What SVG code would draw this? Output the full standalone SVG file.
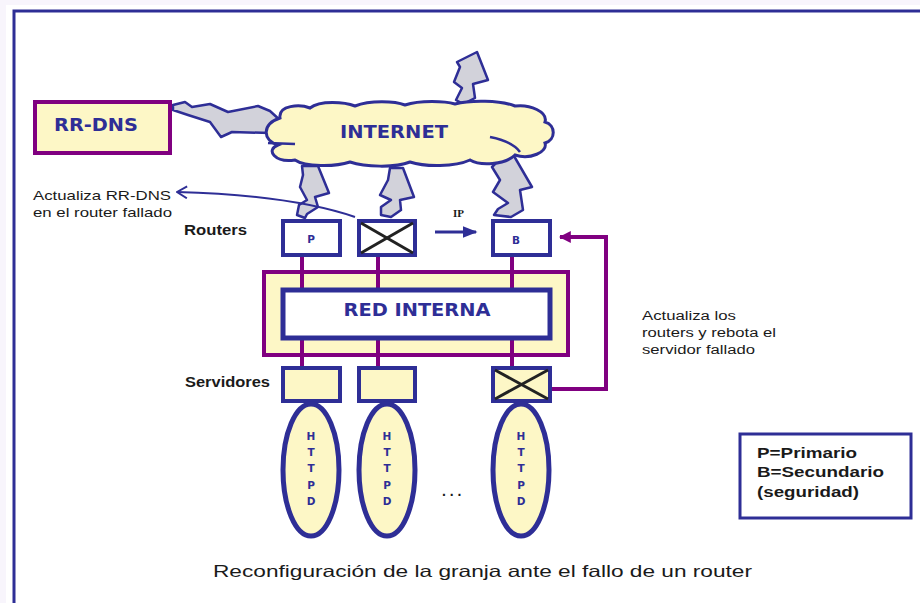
<svg xmlns="http://www.w3.org/2000/svg" width="920" height="603" viewBox="0 0 920 603">
<style>
.lbl{font-family:"Liberation Sans",Arial,sans-serif;fill:#1a1a1a}
.big{font-family:"DejaVu Sans",Verdana,sans-serif;font-weight:bold;fill:#2e2e96}
.bolt{fill:#d2d2da;stroke:#2e2e96;stroke-width:2.5;stroke-linejoin:round}
.router{fill:#ffffff;stroke:#2e2e96;stroke-width:4}
.server{fill:#fdf7c6;stroke:#2e2e96;stroke-width:4}
.httpd{fill:#fdf7c6;stroke:#2e2e96;stroke-width:5}
.cross{stroke:#222;stroke-width:3}
.purple{stroke:#800080;stroke-width:4;fill:none}
.hl{font-family:"DejaVu Sans",Verdana,sans-serif;font-weight:bold;font-size:10.5px;fill:#2e2e96;text-anchor:middle}
</style>
<defs>
<marker id="pArrow" viewBox="0 0 10 10" refX="9" refY="5" markerWidth="3" markerHeight="3" orient="auto">
<path d="M0,0 L10,5 L0,10 Z" fill="#800080"/>
</marker>
<marker id="bArrow" viewBox="0 0 10 10" refX="9" refY="5" markerWidth="5" markerHeight="5" orient="auto">
<path d="M0,1 L10,5 L0,9 Z" fill="#2e2e96"/>
</marker>
<marker id="openArrow" viewBox="0 0 12 14" refX="11" refY="7" markerWidth="12" markerHeight="14" orient="auto" markerUnits="userSpaceOnUse">
<path d="M1,1 L11,7 L1,13" fill="none" stroke="#2e2e96" stroke-width="2"/>
</marker>
</defs>
<rect x="0" y="0" width="920" height="603" fill="#f8f5fc"/>
<rect x="6" y="5" width="914" height="598" fill="#ffffff"/>
<rect x="14" y="11" width="920" height="610" fill="#ffffff" stroke="#2e2e96" stroke-width="3"/>

<g id="bolts">
<polygon class="bolt" points="173,105 185,102 192,107 210,104 228,112 258,106 270,111 282,122 283,128 270,133 232,132 221,137 210,122 188,115 173,110"/>
<polygon class="bolt" points="477,52 488,80 473,84 475,98 463,104 456,100 462,88 454,82 460,67 457,62"/>
<polygon class="bolt" points="302,166 318,166 329,193 315,197 318,207 307,214 305,218 297,215 299,205 307,200 300,187 303,175"/>
<polygon class="bolt" points="390,168 403,168 414,197 400,200 401,210 391,217 381,215 381,207 391,200 380,195 388,180"/>
<polygon class="bolt" points="503,156 514,156 532,187 520,190 523,210 511,217 494,215 498,209 508,203 493,192 500,180 492,167"/>
</g>

<g id="internet">
<path d="M 280,118 C 278,105 300,104 310,108 C 320,100 345,102 355,106 C 370,100 395,101 405,105 C 420,100 445,101 455,104 C 470,100 500,100 515,106 C 530,104 548,112 545,122 C 556,125 556,140 545,143 C 548,152 530,160 515,155 C 505,165 480,166 470,160 C 455,167 425,167 410,162 C 395,168 365,167 350,162 C 335,167 305,167 295,160 C 275,163 265,150 278,145 C 262,140 262,124 280,118 Z" fill="#fdf7c6" stroke="#2e2e96" stroke-width="3"/>
<path d="M 268,143 L 295,144" stroke="#2e2e96" stroke-width="2.5" fill="none"/>
<path d="M 490,137 C 505,140 515,145 520,152" stroke="#2e2e96" stroke-width="2.5" fill="none"/>
<text class="big" x="394" y="138" font-size="17" text-anchor="middle" textLength="108" lengthAdjust="spacingAndGlyphs">INTERNET</text>
</g>

<g id="rrdns">
<rect x="35" y="102" width="135" height="51" fill="#fdf7c6" stroke="#800080" stroke-width="4"/>
<text class="big" x="96" y="131" font-size="18" text-anchor="middle" textLength="84" lengthAdjust="spacingAndGlyphs">RR-DNS</text>
</g>

<g id="connectors">
<line class="purple" x1="302" y1="257" x2="302" y2="288"/>
<line class="purple" x1="378" y1="257" x2="378" y2="288"/>
<line class="purple" x1="512" y1="257" x2="512" y2="288"/>
<line class="purple" x1="302" y1="340" x2="302" y2="366"/>
<line class="purple" x1="378" y1="340" x2="378" y2="366"/>
<line class="purple" x1="512" y1="340" x2="512" y2="366"/>
<polyline class="purple" points="552,389 606,389 606,237 560,237" marker-end="url(#pArrow)"/>
<line x1="435" y1="232" x2="476" y2="232" stroke="#2e2e96" stroke-width="3" marker-end="url(#bArrow)"/>
<path d="M 355,217 Q 290,195 177,192" fill="none" stroke="#2e2e96" stroke-width="2" marker-end="url(#openArrow)"/>
</g>

<g id="red-interna">
<rect x="264" y="272" width="304" height="83" fill="#fdf7c6" stroke="#800080" stroke-width="4"/>
<line class="purple" x1="302" y1="272" x2="302" y2="288"/>
<line class="purple" x1="378" y1="272" x2="378" y2="288"/>
<line class="purple" x1="512" y1="272" x2="512" y2="288"/>
<line class="purple" x1="302" y1="340" x2="302" y2="355"/>
<line class="purple" x1="378" y1="340" x2="378" y2="355"/>
<line class="purple" x1="512" y1="340" x2="512" y2="355"/>
<rect x="283" y="290" width="267" height="48" fill="#ffffff" stroke="#2e2e96" stroke-width="5"/>
<text class="big" x="417" y="316" font-size="17" text-anchor="middle" textLength="147" lengthAdjust="spacingAndGlyphs">RED INTERNA</text>
</g>

<g id="router-p">
<rect class="router" x="283" y="221" width="57" height="34"/>
<text class="hl" x="311" y="243">P</text>
</g>
<g id="router-x">
<rect class="router" x="359" y="221" width="56" height="34"/>
<line class="cross" x1="361" y1="223" x2="413" y2="253"/>
<line class="cross" x1="413" y1="223" x2="361" y2="253"/>
</g>
<g id="router-b">
<rect class="router" x="493" y="221" width="57" height="34"/>
<text class="hl" x="516" y="244">B</text>
</g>

<g id="server-1">
<rect class="server" x="283" y="368" width="57" height="33"/>
</g>
<g id="server-2">
<rect class="server" x="359" y="368" width="56" height="33"/>
</g>
<g id="server-3">
<rect class="server" x="493" y="368" width="57" height="33"/>
<line class="cross" x1="495" y1="370" x2="548" y2="399"/>
<line class="cross" x1="548" y1="370" x2="495" y2="399"/>
</g>

<g id="httpd-1">
<ellipse class="httpd" cx="311" cy="470" rx="28" ry="66"/>
<text class="hl" x="311" y="440">H</text><text class="hl" x="311" y="456">T</text><text class="hl" x="311" y="472">T</text><text class="hl" x="311" y="489">P</text><text class="hl" x="311" y="505">D</text>
</g>
<g id="httpd-2">
<ellipse class="httpd" cx="387" cy="470" rx="28" ry="66"/>
<text class="hl" x="387" y="440">H</text><text class="hl" x="387" y="456">T</text><text class="hl" x="387" y="472">T</text><text class="hl" x="387" y="489">P</text><text class="hl" x="387" y="505">D</text>
</g>
<g id="httpd-3">
<ellipse class="httpd" cx="521" cy="470" rx="28" ry="66"/>
<text class="hl" x="521" y="440">H</text><text class="hl" x="521" y="456">T</text><text class="hl" x="521" y="472">T</text><text class="hl" x="521" y="489">P</text><text class="hl" x="521" y="505">D</text>
</g>

<g id="labels">
<text class="lbl" x="33" y="200" font-size="13" textLength="138" lengthAdjust="spacingAndGlyphs">Actualiza RR-DNS</text>
<text class="lbl" x="33" y="217" font-size="13" textLength="139" lengthAdjust="spacingAndGlyphs">en  el router fallado</text>
<text class="lbl" x="184" y="235" font-size="14" font-weight="bold" textLength="63" lengthAdjust="spacingAndGlyphs">Routers</text>
<text class="lbl" x="185" y="387" font-size="14" font-weight="bold" textLength="85" lengthAdjust="spacingAndGlyphs">Servidores</text>
<text x="453" y="217" font-family="'Liberation Serif',serif" font-size="11" font-weight="bold" fill="#1a1a1a">IP</text>
<text class="lbl" x="442" y="496" font-size="14" font-weight="bold">. . .</text>
<text class="lbl" x="642" y="320" font-size="12.5" textLength="94" lengthAdjust="spacingAndGlyphs">Actualiza los</text>
<text class="lbl" x="642" y="337" font-size="12.5" textLength="134" lengthAdjust="spacingAndGlyphs">routers y rebota el</text>
<text class="lbl" x="642" y="354" font-size="12.5" textLength="113" lengthAdjust="spacingAndGlyphs">servidor  fallado</text>
<text class="lbl" x="213" y="577" font-size="16.5" textLength="539" lengthAdjust="spacingAndGlyphs">Reconfiguración de la granja ante el fallo de un router</text>
</g>

<g id="legend">
<rect x="740" y="434" width="171" height="84" fill="#ffffff" stroke="#2e2e96" stroke-width="3"/>
<text class="lbl" x="757" y="458" font-size="14" font-weight="bold" textLength="100" lengthAdjust="spacingAndGlyphs">P=Primario</text>
<text class="lbl" x="757" y="477" font-size="14" font-weight="bold" textLength="127" lengthAdjust="spacingAndGlyphs">B=Secundario</text>
<text class="lbl" x="757" y="497" font-size="14" font-weight="bold" textLength="102" lengthAdjust="spacingAndGlyphs">(seguridad)</text>
</g>
</svg>
